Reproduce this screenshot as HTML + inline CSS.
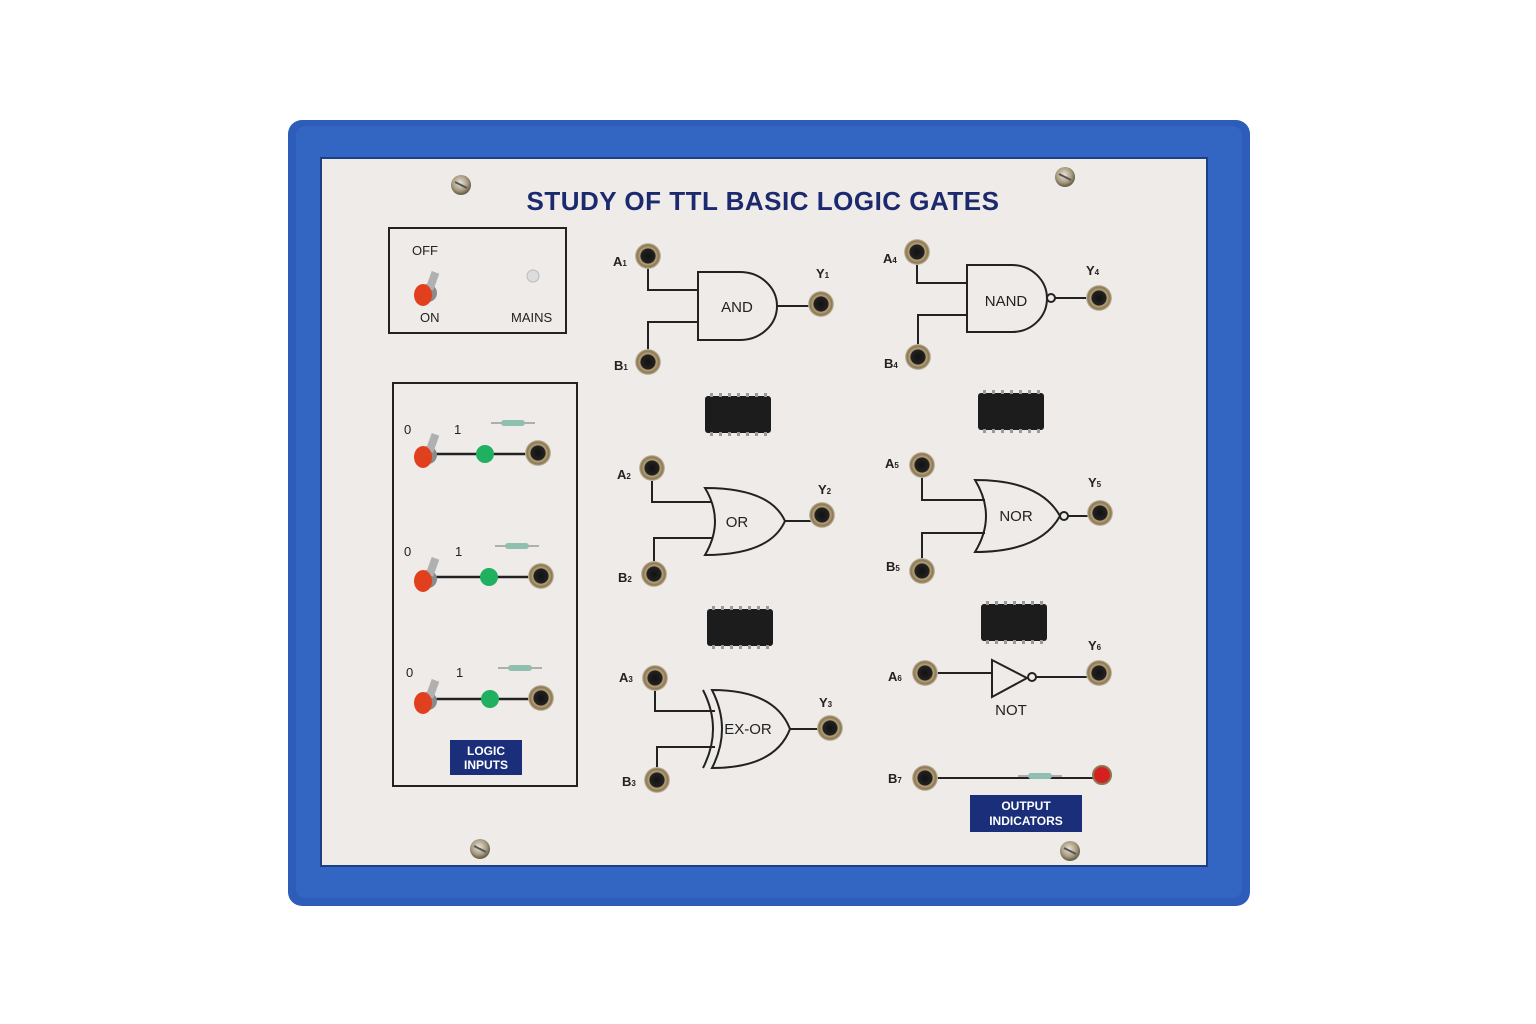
<!DOCTYPE html>
<html><head><meta charset="utf-8"><style>
html,body{margin:0;padding:0;background:#fff;width:1536px;height:1024px;overflow:hidden}
text{font-family:"Liberation Sans",sans-serif}
</style></head><body>
<svg width="1536" height="1024" viewBox="0 0 1536 1024" xmlns="http://www.w3.org/2000/svg">
<defs>
<radialGradient id="sock" cx="50%" cy="50%" r="50%">
<stop offset="0" stop-color="#111"/><stop offset="0.55" stop-color="#222"/><stop offset="0.62" stop-color="#b8a27a"/><stop offset="0.85" stop-color="#8a7650"/><stop offset="1" stop-color="#cfc7b8"/></radialGradient>
<radialGradient id="scr" cx="45%" cy="40%" r="55%"><stop offset="0" stop-color="#e8e4d8"/><stop offset="0.7" stop-color="#a89a80"/><stop offset="1" stop-color="#6d644f"/></radialGradient>
<g id="s"><circle r="13" fill="url(#sock)"/></g>
<g id="ic"><rect x="0" y="0" width="66" height="37" rx="3" fill="#1c1c1c"/><g fill="#999">
<rect x="5" y="-3" width="3" height="4"/><rect x="14" y="-3" width="3" height="4"/><rect x="23" y="-3" width="3" height="4"/><rect x="32" y="-3" width="3" height="4"/><rect x="41" y="-3" width="3" height="4"/><rect x="50" y="-3" width="3" height="4"/><rect x="59" y="-3" width="3" height="4"/>
<rect x="5" y="36" width="3" height="4"/><rect x="14" y="36" width="3" height="4"/><rect x="23" y="36" width="3" height="4"/><rect x="32" y="36" width="3" height="4"/><rect x="41" y="36" width="3" height="4"/><rect x="50" y="36" width="3" height="4"/><rect x="59" y="36" width="3" height="4"/></g></g>
<g id="sw"><circle r="9" fill="#8a8a8a"/><rect x="-4" y="-22" width="8" height="18" fill="#b0b0b0" transform="rotate(20)"/><ellipse cx="-5" cy="2" rx="9" ry="11" fill="#e0401e"/></g>
<g id="scw"><circle r="10" fill="url(#scr)"/><line x1="-6" y1="-3" x2="6" y2="3" stroke="#555" stroke-width="2"/></g>
<g id="res"><line x1="-22" y1="0" x2="22" y2="0" stroke="#999" stroke-width="1.5"/><rect x="-12" y="-3" width="24" height="6" rx="3" fill="#8fbfae"/></g>
</defs>
<rect x="288" y="120" width="962" height="786" rx="14" fill="#2d5db8"/>
<rect x="296" y="126" width="946" height="772" rx="10" fill="#3366c2"/>
<rect x="321" y="158" width="886" height="708" fill="#efebe8" stroke="#1d3f86" stroke-width="2"/>
<text x="763" y="210" text-anchor="middle" font-size="26" font-weight="bold" fill="#1b2a6e" letter-spacing="0.5">STUDY OF TTL BASIC LOGIC GATES</text>
<use href="#scw" x="461" y="185"/><use href="#scw" x="1065" y="177"/><use href="#scw" x="480" y="849"/><use href="#scw" x="1070" y="851"/>

<g stroke="#222" stroke-width="2" fill="none">
<rect x="389" y="228" width="177" height="105"/>
<rect x="393" y="383" width="184" height="403"/>
</g>
<g font-size="13" fill="#222">
<text x="412" y="255">OFF</text><text x="420" y="322">ON</text><text x="511" y="322">MAINS</text></g>
<use href="#sw" x="428" y="293"/><circle cx="533" cy="276" r="6" fill="#ddd" stroke="#bbb"/>

<g font-size="13" fill="#222">
<text x="404" y="434">0</text><text x="454" y="434">1</text>
<text x="404" y="556">0</text><text x="455" y="556">1</text>
<text x="406" y="677">0</text><text x="456" y="677">1</text></g>
<g stroke="#222" stroke-width="2.5">
<line x1="432" y1="454" x2="538" y2="454"/><line x1="432" y1="577" x2="538" y2="577"/><line x1="432" y1="699" x2="538" y2="699"/></g>
<use href="#sw" x="428" y="455"/><use href="#sw" x="428" y="579"/><use href="#sw" x="428" y="701"/>
<g fill="#1fb060"><circle cx="485" cy="454" r="9"/><circle cx="489" cy="577" r="9"/><circle cx="490" cy="699" r="9"/></g>
<use href="#res" x="513" y="423"/><use href="#res" x="517" y="546"/><use href="#res" x="520" y="668"/>
<use href="#s" x="538" y="453"/><use href="#s" x="541" y="576"/><use href="#s" x="541" y="698"/>
<rect x="450" y="740" width="72" height="35" fill="#1a2e7a"/>
<text x="486" y="755" text-anchor="middle" font-size="12" font-weight="bold" fill="#fff">LOGIC</text>
<text x="486" y="769" text-anchor="middle" font-size="12" font-weight="bold" fill="#fff">INPUTS</text>

<use href="#ic" x="705" y="396"/><use href="#ic" x="978" y="393"/><use href="#ic" x="707" y="609"/><use href="#ic" x="981" y="604"/>

<g stroke="#222" stroke-width="2" fill="none">
<!-- AND -->
<path d="M648 256 V290 H698 M648 362 V322 H698"/>
<path d="M698 272 H740 A37 34 0 0 1 740 340 H698 Z"/>
<path d="M777 306 H812"/>
<!-- NAND -->
<path d="M917 252 V283 H967 M918 357 V315 H967"/>
<path d="M967 265 H1012 A35 33.5 0 0 1 1012 332 H967 Z"/>
<circle cx="1051" cy="298" r="4"/><path d="M1055 298 H1092"/>
<!-- OR -->
<path d="M652 468 V502 H712 M654 574 V538 H712"/>
<path d="M705 488 Q770 488 785 521 Q770 555 705 555 Q725 521 705 488 Z"/>
<path d="M785 521 H814"/>
<!-- NOR -->
<path d="M922 465 V500 H985 M922 571 V533 H985"/>
<path d="M975 480 Q1040 480 1060 516 Q1040 552 975 552 Q997 516 975 480 Z"/>
<circle cx="1064" cy="516" r="4"/><path d="M1068 516 H1092"/>
<!-- EXOR -->
<path d="M655 678 V711 H715 M657 780 V747 H715"/>
<path d="M712 690 Q775 690 790 729 Q775 768 712 768 Q732 729 712 690 Z"/>
<path d="M703 690 Q723 729 703 768"/>
<path d="M790 729 H822"/>
<!-- NOT -->
<path d="M925 673 H992"/>
<path d="M992 660 L1027 678 L992 697 Z"/>
<circle cx="1032" cy="677" r="4"/><path d="M1036 677 H1092"/>
<!-- B7 -->
<path d="M925 778 H1100"/>
</g>
<use href="#res" x="1040" y="776"/>
<circle cx="1102" cy="775" r="9" fill="#d42020" stroke="#8a7650" stroke-width="2"/>

<g font-size="15" fill="#222" text-anchor="middle">
<text x="737" y="312">AND</text><text x="1006" y="306">NAND</text><text x="737" y="527">OR</text>
<text x="1016" y="521">NOR</text><text x="748" y="734">EX-OR</text><text x="1011" y="715">NOT</text></g>
<g font-size="13" font-weight="bold" fill="#222">
<text x="613" y="266">A<tspan font-size="8">1</tspan></text><text x="614" y="370">B<tspan font-size="8">1</tspan></text><text x="816" y="278">Y<tspan font-size="8">1</tspan></text>
<text x="883" y="263">A<tspan font-size="8">4</tspan></text><text x="884" y="368">B<tspan font-size="8">4</tspan></text><text x="1086" y="275">Y<tspan font-size="8">4</tspan></text>
<text x="617" y="479">A<tspan font-size="8">2</tspan></text><text x="618" y="582">B<tspan font-size="8">2</tspan></text><text x="818" y="494">Y<tspan font-size="8">2</tspan></text>
<text x="885" y="468">A<tspan font-size="8">5</tspan></text><text x="886" y="571">B<tspan font-size="8">5</tspan></text><text x="1088" y="487">Y<tspan font-size="8">5</tspan></text>
<text x="619" y="682">A<tspan font-size="8">3</tspan></text><text x="622" y="786">B<tspan font-size="8">3</tspan></text><text x="819" y="707">Y<tspan font-size="8">3</tspan></text>
<text x="888" y="681">A<tspan font-size="8">6</tspan></text><text x="1088" y="650">Y<tspan font-size="8">6</tspan></text>
<text x="888" y="783">B<tspan font-size="8">7</tspan></text></g>

<use href="#s" x="648" y="256"/><use href="#s" x="648" y="362"/><use href="#s" x="821" y="304"/>
<use href="#s" x="917" y="252"/><use href="#s" x="918" y="357"/><use href="#s" x="1099" y="298"/>
<use href="#s" x="652" y="468"/><use href="#s" x="654" y="574"/><use href="#s" x="822" y="515"/>
<use href="#s" x="922" y="465"/><use href="#s" x="922" y="571"/><use href="#s" x="1100" y="513"/>
<use href="#s" x="655" y="678"/><use href="#s" x="657" y="780"/><use href="#s" x="830" y="728"/>
<use href="#s" x="925" y="673"/><use href="#s" x="1099" y="673"/><use href="#s" x="925" y="778"/>

<rect x="970" y="795" width="112" height="37" fill="#1a2e7a"/>
<text x="1026" y="810" text-anchor="middle" font-size="12" font-weight="bold" fill="#fff">OUTPUT</text>
<text x="1026" y="825" text-anchor="middle" font-size="12" font-weight="bold" fill="#fff">INDICATORS</text>
</svg>
</body></html>
